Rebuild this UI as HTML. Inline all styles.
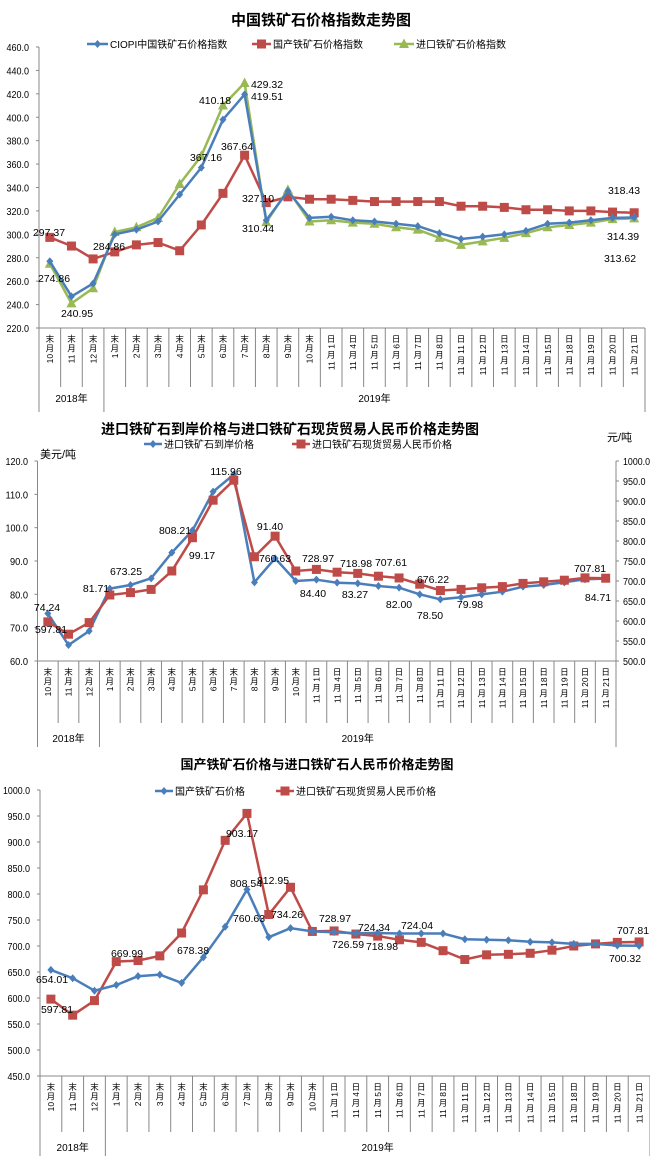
<!DOCTYPE html>
<html><head><meta charset="utf-8"><style>
html,body{margin:0;padding:0;background:#fff;width:650px;height:1165px;overflow:hidden}
svg{display:block;font-family:"Liberation Sans","Noto Sans CJK SC",sans-serif}
</style></head><body>
<svg id="s" width="650" height="1165" viewBox="0 0 650 1165" xmlns="http://www.w3.org/2000/svg"></svg>
<script>
const S=document.getElementById('s');let H='';
const cats=['10月末','11月末','12月末','1月末','2月末','3月末','4月末','5月末','6月末','7月末','8月末','9月末','10月末','11月1日','11月4日','11月5日','11月6日','11月7日','11月8日','11月11日','11月12日','11月13日','11月14日','11月15日','11月18日','11月19日','11月20日','11月21日'];
const B='#4a7ebb',R='#be4b48',G='#98b954';
function txt(x,y,t,o){o=o||{};const tl=o.tl?` textLength="${o.tl}" lengthAdjust="spacingAndGlyphs"`:'';H+=`<text x="${x}" y="${y}" font-size="${o.fs||10}" text-anchor="${o.a||'middle'}" font-weight="${o.w||'normal'}" fill="#000"${tl}>${t}</text>`;}
function tick(x,y,v,a){const s=v.toFixed(1);txt(x,y,s,{a:a,fs:10,tl:s.length*4.5});}
function line(x1,y1,x2,y2,c,w){H+=`<line x1="${x1}" y1="${y1}" x2="${x2}" y2="${y2}" stroke="${c||'#888'}" stroke-width="${w||1}"/>`;}
function marker(type,x,y,c){
 if(type=='d')H+=`<path d="M${x} ${y-4}L${x+3.5} ${y}L${x} ${y+4}L${x-3.5} ${y}Z" fill="${c}"/>`;
 else if(type=='s')H+=`<rect x="${x-4.5}" y="${y-4.5}" width="9" height="9" fill="${c}"/>`;
 else H+=`<path d="M${x} ${y-5.5}L${x+5} ${y+4}L${x-5} ${y+4}Z" fill="${c}"/>`;
}
function series(data,X,Y,c,type){
 const pts=data.map((v,i)=>[X(i),Y(v)]);
 H+=`<polyline points="${pts.map(p=>p[0].toFixed(1)+','+p[1].toFixed(1)).join(' ')}" fill="none" stroke="${c}" stroke-width="2.5"/>`;
 pts.forEach(p=>marker(type,p[0],p[1],c));
}
function legend(type,x1,x2,y,c,t){line(x1,y,x2,y,c,2.5);marker(type,(x1+x2)/2,y,c);txt(x2+2,y+4,t,{a:'start',fs:10});}
function catLabels(x0,w,top,bot,yearBot,yearY,yearSplitX,right){
 line(x0,top,x0,yearBot);
 for(let i=1;i<=28;i++){const x=x0+i*w;line(x,top,x,i==3?yearBot:bot);}
 line(right,top,right,yearBot);
 cats.forEach((c,i)=>{
  const cx=x0+(i+0.5)*w;const toks=c.match(/\d+|./g).reverse();let y=top+6;
  toks.forEach(t=>{
   if(/\d/.test(t)){const len=t.length*5.2;H+=`<text transform="translate(${cx+3.2},${y+len}) rotate(-90)" font-size="8.5" fill="#000">${t}</text>`;y+=len+1.5;}
   else{txt(cx,y+8,t,{fs:8.5});y+=9.5;}
  });
 });
 txt(x0+1.5*w,yearY,'2018年',{fs:10});txt((x0+3*w+right)/2,yearY,'2019年',{fs:10});
}
function labels(arr){arr.forEach(a=>txt(a[1],a[2],a[0],{fs:10.5}));}

/* Chart 1 */
{const x0=39,w=(645-39)/28,X=i=>x0+(i+0.5)*w,Y=v=>328-(v-220)*281/240;
 txt(321,25,'中国铁矿石价格指数走势图',{fs:15,w:'bold'});
 for(let v=220;v<=460;v+=20){tick(29,Y(v)+4,v,'end');line(36,Y(v),39,Y(v));}
 line(39,47,39,328);line(39,328,645,328);
 catLabels(x0,w,328,387,412,402,0,645);
 legend('d',87,108,44,B,'CIOPI中国铁矿石价格指数');
 legend('s',252,271,44,R,'国产铁矿石价格指数');
 legend('t',394,414,44,G,'进口铁矿石价格指数');
 series([297.4,290,279,285,291,293,286,308,335,367.6,327.1,332,330,330,329,328,328,328,328,324,324,323,321,321,320,320,319,318.4],X,Y,R,'s');
 series([274.9,241,254,302,306,314,343,367,410,429.3,310.4,338,311,312,310,309,306,304,297,291,294,297,301,306,308,310,313,313.6],X,Y,G,'t');
 series([277,247,258,300,304,311,334,357,398,419.5,312,337,314,315,312,311,309,307,301,296,298,300,303,309,310,312,314,314.4],X,Y,B,'d');
 labels([['297.37',49,236],['274.86',54,282],['240.95',77,317],['284.86',109,250],['367.16',206,161],['410.18',215,104],['367.64',237,150],['429.32',267,88],['419.51',267,100],['327.10',258,202],['310.44',258,232],['318.43',624,194],['314.39',623,240],['313.62',620,262]]);
}
/* Chart 2 */
{const x0=37.5,rt=616,w=(rt-x0)/28,X=i=>x0+(i+0.5)*w,Y=v=>661-(v-60)*200/60,Y2=v=>661-(v-500)*200/500;
 txt(290,434,'进口铁矿石到岸价格与进口铁矿石现货贸易人民币价格走势图',{fs:14,w:'bold'});
 txt(40,458,'美元/吨',{a:'start',fs:11});txt(607,441,'元/吨',{a:'start',fs:11});
 for(let v=60;v<=120;v+=10){tick(28,Y(v)+4,v,'end');line(34.5,Y(v),37.5,Y(v));}
 for(let v=500;v<=1000;v+=50){tick(623,Y2(v)+4,v,'start');line(rt,Y2(v),rt+3,Y2(v));}
 line(x0,461,x0,661);line(rt,461,rt,661);line(x0,661,rt,661);
 catLabels(x0,w,661,723,747,742,0,rt);
 legend('d',144,162,444,B,'进口铁矿石到岸价格');
 legend('s',292,310,444,R,'进口铁矿石现货贸易人民币价格');
 series([74.24,64.8,69,81.71,82.8,84.8,92.5,99.17,110.8,115.96,83.6,90.8,84,84.4,83.5,83.27,82.5,82,80,78.5,79.1,79.98,80.8,82.3,82.8,83.6,84.5,84.71],X,Y,B,'d');
 series([597.81,567,596,665,671,679,725,808.21,902,952,760.63,812,725,728.97,722,718.98,712,707.61,692,676.22,679,683,686,694,698,702,707.81,707],X,Y2,R,'s');
 labels([['74.24',47,611],['597.81',51,633],['81.71',96,592],['673.25',126,575],['808.21',175,534],['99.17',202,559],['115.96',226,475],['91.40',270,530],['760.63',275,562],['728.97',318,562],['84.40',313,597],['718.98',356,567],['83.27',355,598],['707.61',391,566],['82.00',399,608],['676.22',433,583],['78.50',430,619],['79.98',470,608],['707.81',590,572],['84.71',598,601]]);
}
/* Chart 3 */
{const x0=40,rt=650,w=(rt-x0)/28,X=i=>x0+(i+0.5)*w,Y=v=>1076-(v-450)*286/550;
 txt(317,769,'国产铁矿石价格与进口铁矿石人民币价格走势图',{fs:13,w:'bold'});
 for(let v=450;v<=1000;v+=50){tick(30,Y(v)+4,v,'end');line(37,Y(v),40,Y(v));}
 line(x0,790,x0,1076);line(x0,1076,rt,1076);
 catLabels(x0,w,1076,1132,1156,1151,0,rt);
 legend('d',155,173,791,B,'国产铁矿石价格');
 legend('s',276,294,791,R,'进口铁矿石现货贸易人民币价格');
 series([597.81,567,595,669.99,672,681,725,808,903.17,955,760.63,812.95,728,728.97,723,718.98,712,707,691,674,683,684,686,692,700,704,707,707.81],X,Y,R,'s');
 series([654.01,638,614,625,642,645,629,678.38,737,808.54,717,734.26,728,726.59,724.34,725,724,724.04,724,713,712,711,708,707,704,704,701,700.32],X,Y,B,'d');
 labels([['654.01',52,983],['597.81',57,1013],['669.99',127,957],['678.38',193,954],['903.17',242,837],['808.54',246,887],['812.95',273,884],['760.63',249,922],['734.26',287,918],['728.97',335,922],['724.34',374,931],['726.59',348,948],['718.98',382,950],['724.04',417,929],['707.81',633,934],['700.32',625,962]]);
}
S.innerHTML=H;
</script>
</body></html>
